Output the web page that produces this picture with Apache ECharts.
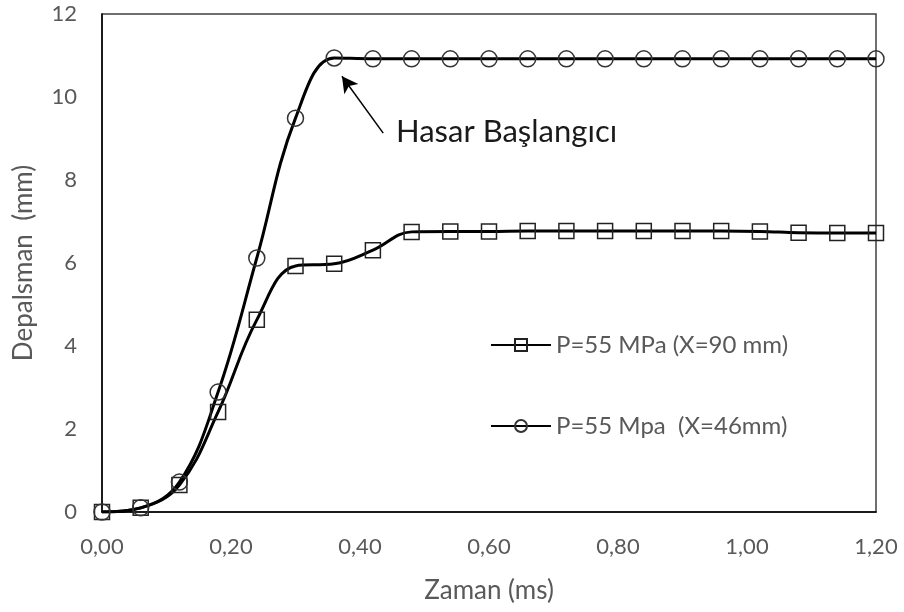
<!DOCTYPE html>
<html><head><meta charset="utf-8">
<script src="https://cdn.jsdelivr.net/npm/echarts@6/dist/echarts.min.js"></script>
<style>html,body{margin:0;padding:0;background:#fff}#c{width:904px;height:612px}</style>
</head><body><div id="c"></div>
<script>
const times = [0,0.06,0.12,0.18,0.24,0.30,0.36,0.42,0.48,0.54,0.60,0.66,0.72,0.78,0.84,0.90,0.96,1.02,1.08,1.14,1.20];
const seriesX90 = [0,0.1,0.65,2.41,4.63,5.93,5.98,6.31,6.75,6.76,6.76,6.77,6.77,6.77,6.77,6.77,6.77,6.76,6.73,6.72,6.72];
const seriesX46 = [0,0.1,0.72,2.89,6.12,9.49,10.94,10.92,10.92,10.92,10.92,10.92,10.92,10.92,10.92,10.92,10.92,10.92,10.92,10.92,10.92];
const names = ['P=55 MPa (X=90 mm)','P=55 Mpa  (X=46mm)'];
const yTicks = [0,2,4,6,8,10,12];
const annotationText = 'Hasar Başlangıcı';
const arrowFrom = [0.436, 9.13];
const arrowTo = [0.372, 10.5];

const font = 'Lato';
const chart = echarts.init(document.getElementById('c'));
const mk = (vals) => times.map((t,i)=>[t, vals[i]]);
chart.setOption({
  animation:false,
  textStyle:{fontFamily:font},
  grid:{left:102, top:14, right:28, bottom:100, show:true, borderColor:'#404040', borderWidth:1.5, containLabel:false},
  xAxis:{type:'value', min:0, max:1.2, interval:0.2,
    name:'Zaman (ms)', nameLocation:'middle', nameGap:66,
    nameTextStyle:{color:'#595959', fontSize:26, fontFamily:font},
    axisLine:{show:true, lineStyle:{color:'#000', width:1.5}}, axisTick:{show:false}, splitLine:{show:false},
    axisLabel:{color:'#595959', fontSize:22, margin:24, formatter:v=>v.toFixed(2).replace('.',',')}},
  yAxis:{type:'value', min:yTicks[0], max:yTicks[yTicks.length-1], interval:2,
    name:'Depalsman  (mm)', nameLocation:'middle', nameGap:65,
    nameTextStyle:{color:'#595959', fontSize:26, fontFamily:font},
    axisLine:{show:true, lineStyle:{color:'#000', width:1.5}}, axisTick:{show:false}, splitLine:{show:false},
    axisLabel:{color:'#595959', fontSize:22, margin:25}},
  legend:{orient:'vertical', left:485, top:328, itemGap:57, itemWidth:60, itemHeight:15,
    textStyle:{color:'#595959', fontSize:24, lineHeight:24, fontFamily:font}, data:names},
  series:[
    {name:names[0], type:'line', data:mk(seriesX90), smooth:0.4, symbol:'rect', symbolSize:15,
     lineStyle:{color:'#000', width:3}, itemStyle:{color:'rgba(0,0,0,0)', borderColor:'#222', borderWidth:1.5}, z:3},
    {name:names[1], type:'line', data:mk(seriesX46), smooth:0.4, symbol:'circle', symbolSize:16,
     lineStyle:{color:'#000', width:3}, itemStyle:{color:'rgba(0,0,0,0)', borderColor:'#333', borderWidth:1.5}, z:3,
     markLine:{silent:true, symbol:['none','arrow'], symbolSize:[13,16], label:{show:false},
       lineStyle:{color:'#000', width:1.5, type:'solid'},
       data:[[{coord:arrowFrom},{coord:arrowTo}]]}}
  ],
  graphic:[{type:'text', left:396, top:116, style:{text:annotationText, fontSize:31, fontFamily:font, fill:'#1a1a1a'}}]
});
</script></body></html>
